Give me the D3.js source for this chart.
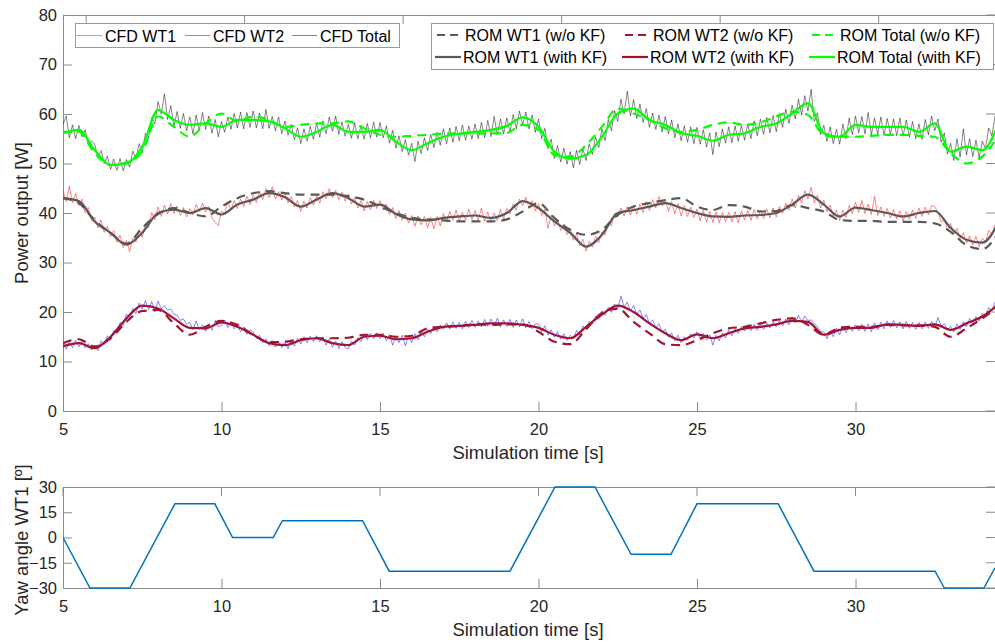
<!DOCTYPE html>
<html>
<head>
<meta charset="utf-8">
<script src="https://cdn.jsdelivr.net/npm/d3@7"></script>
<style>
  body { margin: 0; background: #fff; }
  svg { font-family: "Liberation Sans", Arial, sans-serif; }
  .axis text { fill: #262626; font-size: 16.5px; }
  .axis line, .axis path { stroke: #8a8a8a; }
</style>
</head>
<body>
<svg width="995" height="644"></svg>
<script>
// ROM signals sampled every 0.5 s from t = 5 s
const romStart = 5, romStep = 0.5;
const romWT1 = [43.0,42.0,38.5,36.0,33.8,37.0,39.8,41.0,40.0,39.3, 41.3,43.0,44.0,44.4,44.0,43.7,43.7,43.7,43.4,42.7,
  41.3,40.0,39.0,38.7,38.5,38.3,38.3,38.3,38.7,40.3, 42.0,39.0,36.6,35.6,36.6,39.6,41.3,42.0,42.6,43.0,
  41.3,40.6,41.6,41.3,40.3,40.4,41.6,41.0,40.3,38.6, 38.4,38.4,38.2,38.2,38.2,37.9,36.2,33.5,32.7,36.0];
const romWT2 = [13.7,14.5,13.0,14.7,18.0,20.2,20.4,17.7,15.4,17.0, 18.2,17.4,15.4,13.9,14.0,14.5,14.7,14.7,14.8,15.4,
  15.4,15.0,15.2,16.7,17.0,17.2,17.5,17.4,17.5,17.5, 16.0,14.0,13.5,16.5,19.8,20.7,18.0,15.7,13.5,13.3,
  14.3,15.7,16.7,17.0,17.7,18.4,18.7,17.4,15.4,16.8, 17.0,17.0,17.4,17.3,17.3,17.0,15.0,16.7,18.7,21.0];
const romTotal = [56.4,56.4,52.1,49.7,50.2,52.4,59.5,57.4,55.4,58.1, 60.1,58.5,59.5,58.8,57.4,57.8,58.1,58.1,58.5,57.1,
  55.8,55.4,55.6,55.8,56.0,56.1,56.1,56.1,56.2,57.8, 56.8,51.7,51.4,53.7,57.4,61.1,60.1,58.8,57.1,56.4,
  56.8,57.8,58.3,57.8,58.3,59.5,60.5,59.8,55.8,55.4, 55.4,55.6,55.8,55.8,55.6,55.4,52.1,50.0,51.4,55.5];
const romWT1KF = [43.0,42.4,38.3,36.0,33.6,36.0,40.0,40.7,40.0,41.0, 39.7,41.7,42.7,44.0,43.2,41.3,42.7,44.0,43.0,41.3,
  41.7,39.8,38.7,38.5,39.0,39.3,39.5,39.0,40.0,42.4, 41.0,38.3,36.0,33.2,35.6,40.0,40.6,41.3,42.0,41.0,
  40.0,39.3,39.2,39.5,39.6,40.0,41.7,43.7,41.7,39.3, 41.1,40.6,40.0,39.3,40.0,40.4,37.0,34.6,34.0,38.0];
const romWT2KF = [13.1,13.7,12.7,15.0,18.7,21.3,20.7,18.7,16.8,16.7, 17.9,17.0,15.4,13.7,13.3,14.3,14.7,13.7,13.3,15.0,
  15.2,14.5,14.7,16.0,17.0,17.2,17.4,17.7,17.7,17.4, 16.8,15.4,14.7,17.0,19.5,21.3,20.0,17.7,15.7,14.3,
  15.5,14.7,15.7,16.7,17.0,17.5,18.2,18.0,15.4,16.4, 16.8,16.8,17.5,17.4,17.2,17.5,16.4,17.7,19.1,21.5];
const romTotalKF = [56.1,56.8,52.7,49.7,50.0,53.4,60.8,58.8,57.8,58.1, 57.4,58.8,58.8,58.5,57.1,55.4,56.4,57.8,56.4,56.4,
  56.8,54.4,52.7,54.1,55.4,56.0,56.4,56.8,57.6,59.3, 57.4,52.4,51.0,51.7,55.4,60.1,61.1,58.8,57.8,56.1,
  55.6,54.6,55.8,56.1,57.4,58.1,60.1,62.2,56.1,55.4, 57.8,57.4,57.4,57.4,56.4,58.1,52.4,53.4,52.7,58.0];

// CFD signals sampled every 0.1 s from t = 5 s (one row per second)
const cfdStart = 5, cfdStep = 0.1;
const cfdWT1 = [
  44.6,42.3,45.4,42.1,43.9,41.5,42.8,40.0,41.1,38.4, 39.2,37.0,38.6,36.1,37.3,35.2,36.4,34.1,35.5,33.0,
  34.5,32.2,34.9,34.1,36.6,35.1,37.9,37.0,40.1,38.6, 41.2,39.3,41.6,39.8,41.9,39.9,41.4,39.5,41.1,39.2,
  40.9,39.6,41.7,40.3,42.0,40.2,41.3,39.0,38.1,37.4, 40.4,39.9,42.2,40.6,42.5,40.9,42.8,41.3,43.4,41.7,
  43.6,42.1,44.2,42.7,44.9,43.1,45.3,42.8,44.3,42.6, 44.0,42.0,43.3,41.2,42.5,40.3,42.4,41.0,43.1,41.6,
  43.5,42.0,44.3,42.9,44.9,43.1,44.6,42.7,44.2,42.4, 43.8,41.8,43.1,41.0,42.5,40.4,42.3,40.7,42.6,40.9,
  42.5,40.6,41.8,39.7,41.1,38.9,40.5,38.5,40.0,38.0, 39.5,37.3,39.4,37.6,39.3,37.0,39.1,36.8,39.3,37.4,
  39.9,38.2,40.3,38.5,40.6,38.4,40.1,38.6,40.8,38.7, 40.5,38.6,41.0,38.3,40.2,38.1,40.0,38.5,40.7,38.9,
  40.9,39.8,41.8,40.6,42.8,41.5,43.2,41.0,42.5,40.4, 41.9,39.5,40.8,36.9,39.6,37.4,38.7,36.5,37.8,35.6,
  36.9,34.5,35.8,33.4,34.7,32.3,34.3,33.1,35.3,34.0, 36.2,35.5,38.1,37.4,40.0,39.2,41.0,39.4,41.3,39.6,
  41.5,39.8,41.8,40.1,42.3,40.5,42.7,41.0,43.3,41.4, 42.8,40.3,42.3,39.8,41.9,39.4,41.5,39.3,41.2,39.1,
  40.8,38.4,40.5,38.2,40.3,38.1,40.2,38.0,40.1,38.3, 40.1,38.2,40.3,38.0,40.4,38.6,40.5,38.5,40.7,38.8,
  40.6,38.9,40.8,39.0,41.0,39.2,41.3,39.9,42.0,40.6, 42.8,41.0,43.6,42.0,44.5,42.8,45.2,42.0,43.6,41.0,
  42.6,40.3,41.6,39.4,40.6,38.5,40.6,39.1,41.5,39.8, 42.2,40.1,42.5,39.9,41.8,39.7,43.4,39.5,41.2,39.3,
  40.9,39.0,40.7,38.8,40.4,38.4,40.3,38.7,40.6,38.9, 41.0,39.3,41.2,39.6,41.5,41.3,40.1,38.2,38.7,36.6,
  37.9,35.7,36.9,34.8,36.0,33.9,35.4,33.5,35.3,33.2, 34.9,34.1,36.5,35.7,37.6];
const cfdWT2 = [
  13.8,12.5,13.9,12.8,14.3,13.0,14.1,12.7,13.6,12.3, 13.3,12.2,14.2,13.4,15.2,14.3,16.3,15.8,17.9,17.3,
  19.6,18.5,20.7,19.7,21.8,20.6,22.3,20.5,22.1,20.1, 22.2,20.6,21.3,20.4,20.6,19.5,19.4,18.3,18.6,17.5,
  17.9,16.4,18.2,16.5,17.4,16.1,17.6,16.3,18.3,17.0, 17.3,18.4,16.9,17.9,16.6,17.6,16.0,17.0,15.5,16.4,
  16.0,14.7,15.3,13.8,14.6,13.2,14.2,12.9,14.0,12.8, 13.9,12.6,14.2,13.1,14.7,13.5,15.0,13.8,15.1,14.0,
  15.2,14.0,14.9,13.3,14.5,12.9,14.1,12.6,14.0,12.8, 12.5,14.1,13.3,14.8,14.0,15.5,14.4,15.7,14.6,15.8,
  14.6,15.7,14.2,15.4,13.3,15.1,13.8,15.3,13.2,15.2, 13.8,15.6,14.4,16.1,15.0,16.5,15.6,17.1,16.0,17.4,
  16.5,17.8,16.6,18.0,16.7,17.9,16.6,18.1,16.9,18.3, 16.9,18.2,17.0,18.5,17.1,18.6,17.2,18.7,17.0,18.4,
  17.1,18.5,16.9,18.4,17.0,18.6,16.8,18.1,16.6,17.6, 17.6,16.0,17.2,15.3,16.4,14.9,16.0,14.5,15.6,14.3,
  15.3,14.6,16.3,15.4,17.2,16.5,18.1,17.6,19.2,18.5, 20.2,19.3,20.9,19.9,21.6,20.7,23.2,21.0,22.0,20.2,
  21.3,19.4,20.4,18.7,19.5,17.6,18.4,16.8,17.6,16.0, 16.5,14.9,15.8,14.2,15.3,13.8,15.0,14.3,15.6,14.7,
  16.0,14.6,15.7,14.3,15.4,13.3,15.3,14.2,15.8,14.8, 16.3,15.2,16.6,15.7,17.1,16.1,17.4,16.2,17.5,16.3,
  17.6,16.5,17.8,16.8,18.0,17.0,18.3,17.2,18.6,17.4, 19.0,17.8,19.3,18.0,19.2,18.3,18.4,17.6,17.1,16.0,
  16.0,14.6,16.2,15.0,16.8,15.4,17.1,15.8,17.2,16.1, 17.4,16.2,17.5,16.1,17.6,16.0,17.8,16.4,17.9,16.6,
  18.2,16.9,18.3,16.8,18.0,16.6,18.1,16.7,17.9,16.5, 17.9,16.6,18.0,16.7,18.1,16.9,18.9,17.2,17.6,16.4,
  17.1,16.0,17.6,16.5,18.0,17.0,18.7,17.6,19.1,18.2, 19.8,19.0,20.9,20.2,22.0];
const cfdTotal = [
  57.9,59.6,55.2,57.8,55.0,57.7,55.4,56.8,53.8,54.6, 53.9,51.2,52.6,50.0,51.5,48.8,50.9,48.6,51.0,48.5,
  50.8,49.3,52.5,50.9,54.0,52.3,56.1,55.2,59.3,58.0, 62.5,60.0,64.1,58.9,61.7,57.4,60.5,57.1,60.1,56.6,
  59.4,56.0,59.8,56.6,60.3,56.9,59.6,56.1,58.9,55.4, 58.5,56.3,59.4,56.9,60.1,57.2,60.4,57.0,60.3,57.3,
  60.6,57.2,60.2,57.0,60.9,57.1,59.5,56.6,59.4,56.0, 58.6,55.7,57.9,54.8,57.2,54.0,57.0,54.5,57.5,54.9,
  58.1,55.3,58.6,56.0,59.4,56.5,59.6,55.9,58.4,55.5, 57.9,55.1,58.2,55.0,57.6,54.9,58.1,55.2,58.4,55.3,
  58.3,55.2,57.6,54.1,56.7,53.1,55.6,52.4,54.8,51.7, 54.1,50.4,54.5,52.0,55.2,52.6,55.9,53.2,56.3,53.7,
  57.0,54.0,57.2,54.3,57.5,54.6,57.8,54.7,57.6,54.9, 58.0,55.0,58.3,55.2,58.7,55.4,59.5,55.8,59.0,56.0,
  59.2,56.3,59.9,57.0,60.6,57.8,60.4,57.0,59.8,56.3, 59.0,55.0,57.1,53.0,54.9,51.0,53.6,50.3,53.1,49.9,
  52.4,49.1,52.7,49.8,53.0,50.6,54.0,51.8,55.4,53.2, 57.0,54.6,58.9,56.6,60.7,58.5,63.0,60.0,64.6,59.6,
  62.9,59.1,62.0,58.3,61.1,57.3,60.2,56.9,59.8,56.4, 59.5,56.0,58.8,55.2,58.0,54.6,57.6,54.3,57.4,54.0,
  57.3,53.9,56.8,53.3,56.2,51.8,56.4,53.4,57.0,54.1, 57.4,54.2,57.6,54.5,57.7,54.7,58.0,55.0,58.6,55.6,
  59.0,55.9,59.3,56.2,59.7,56.4,60.1,57.3,61.0,58.1, 61.8,59.0,63.0,59.8,63.7,60.6,65.0,58.5,60.2,55.8,
  57.7,54.5,57.4,54.0,56.9,53.9,58.0,55.0,59.2,55.8, 59.6,56.2,59.5,56.0,60.3,55.8,59.2,55.9,59.4,55.7,
  59.1,55.8,59.0,55.6,59.2,55.5,58.8,55.3,58.5,55.0, 58.0,54.9,58.9,55.8,59.6,56.6,59.0,54.3,56.2,51.9,
  54.1,50.6,55.0,51.3,57.0,51.7,55.0,51.4,54.7,51.1, 54.5,53.0,57.2,55.6,59.6];

// yaw set-point of WT1
const yawTime  = [5, 5.85, 7.11, 8.53, 9.79, 10.35, 11.63, 11.92, 14.45, 15.29, 19.1, 20.52, 21.78, 22.92, 24.18, 25.0, 27.56, 28.69, 32.51, 32.8, 34.05, 34.4];
const yawAngle = [0, -30, -30, 20, 20, 0, 0, 10, 10, -20, -20, 30, 30, -10, -10, 20, 20, -20, -20, -30, -30, -18];

const xTicks = [5, 10, 15, 20, 25, 30];
const powerTicks = [0, 10, 20, 30, 40, 50, 60, 70, 80];
const yawTicks = [-30, -15, 0, 15, 30];

const svg = d3.select('svg');
const left = 63, right = 995;

const x = d3.scaleLinear().domain([5, 34.4]).range([left, right]);
const yP = d3.scaleLinear().domain([0, 80]).range([411, 15]);
const yY = d3.scaleLinear().domain([-30, 30]).range([588, 487]);

const series = (vals, start, step) => vals.map((v, i) => [start + i * step, v]);

svg.append('clipPath').attr('id', 'clipTop')
  .append('rect').attr('x', left).attr('y', 15).attr('width', right - left).attr('height', 396);
svg.append('clipPath').attr('id', 'clipBot')
  .append('rect').attr('x', left).attr('y', 486).attr('width', right - left).attr('height', 103);

function drawAxes(y, yTop, yBottom, yTickVals, topTicks) {
  const g = svg.append('g');
  g.append('g').attr('class', 'axis')
    .attr('transform', 'translate(0,' + yBottom + ')')
    .call(d3.axisBottom(x).tickValues(xTicks).tickSizeInner(-9).tickSizeOuter(0).tickPadding(12))
    .call(a => a.select('.domain').remove());
  g.append('g').attr('class', 'axis')
    .attr('transform', 'translate(' + left + ',0)')
    .call(d3.axisLeft(y).tickValues(yTickVals).tickSizeInner(-9).tickSizeOuter(0).tickPadding(6))
    .call(a => a.select('.domain').remove());
  // right side ticks
  g.append('g').selectAll('line').data(yTickVals).join('line')
    .attr('x1', right - 9).attr('x2', right).attr('y1', d => y(d)).attr('y2', d => y(d))
    .attr('stroke', '#8a8a8a');
  // top side ticks
  g.append('g').selectAll('line').data(topTicks).join('line')
    .attr('x1', d => x(d)).attr('x2', d => x(d)).attr('y1', yTop).attr('y2', yTop + 9)
    .attr('stroke', '#8a8a8a');
  g.append('rect').attr('x', left + 0.5).attr('y', yTop + 0.5)
    .attr('width', right - left).attr('height', yBottom - yTop)
    .attr('fill', 'none').attr('stroke', '#8a8a8a');
}

drawAxes(yP, 15, 411, powerTicks, [5.73, 10.73, 15.73, 20.73, 25.73, 30.73]);
drawAxes(yY, 487, 588, yawTicks, xTicks);

const lineP = d3.line().x(d => x(d[0])).y(d => yP(d[1]));
const plot = svg.append('g').attr('clip-path', 'url(#clipTop)');

const cfd = [
  {name: 'CFD WT1', data: cfdWT1, color: '#ff0000'},
  {name: 'CFD WT2', data: cfdWT2, color: '#0000ff'},
  {name: 'CFD Total', data: cfdTotal, color: '#000000'}
];
cfd.forEach(s => {
  plot.append('path')
    .attr('d', lineP(series(s.data, cfdStart, cfdStep)))
    .attr('fill', 'none').attr('stroke', s.color)
    .attr('stroke-width', 0.6).attr('stroke-opacity', 0.8);
});

const rom = [
  {name: 'ROM WT1 (w/o KF)', data: romWT1, color: '#595959', dash: '9,6'},
  {name: 'ROM WT2 (w/o KF)', data: romWT2, color: '#a2142f', dash: '9,6'},
  {name: 'ROM Total (w/o KF)', data: romTotal, color: '#00ff00', dash: '9,6'},
  {name: 'ROM WT1 (with KF)', data: romWT1KF, color: '#595959', dash: null},
  {name: 'ROM WT2 (with KF)', data: romWT2KF, color: '#a2142f', dash: null},
  {name: 'ROM Total (with KF)', data: romTotalKF, color: '#00ff00', dash: null}
];
const smooth = d3.line().curve(d3.curveMonotoneX).x(d => x(d[0])).y(d => yP(d[1]));
rom.forEach(s => {
  plot.append('path')
    .attr('d', smooth(series(s.data, romStart, romStep)))
    .attr('fill', 'none').attr('stroke', s.color)
    .attr('stroke-width', 2.2)
    .attr('stroke-dasharray', s.dash);
});

// yaw panel
const lineY = d3.line().x(d => x(d[0])).y(d => yY(d[1]));
svg.append('g').attr('clip-path', 'url(#clipBot)')
  .append('path')
  .attr('d', lineY(yawTime.map((t, i) => [t, yawAngle[i]])))
  .attr('fill', 'none').attr('stroke', '#0072bd').attr('stroke-width', 1.5);

// axis titles
svg.append('text').attr('x', 528).attr('y', 459).attr('text-anchor', 'middle')
  .style('font-size', '18.5px').style('fill', '#262626').text('Simulation time [s]');
svg.append('text').attr('x', 528).attr('y', 636).attr('text-anchor', 'middle')
  .style('font-size', '18.5px').style('fill', '#262626').text('Simulation time [s]');
svg.append('text').attr('transform', 'translate(28,213) rotate(-90)').attr('text-anchor', 'middle')
  .style('font-size', '18.5px').style('fill', '#262626').text('Power output [W]');
svg.append('text').attr('transform', 'translate(28,540) rotate(-90)').attr('text-anchor', 'middle')
  .style('font-size', '18.5px').style('fill', '#262626').text('Yaw angle WT1 [º]');

// legend 1 (CFD)
const leg1 = svg.append('g');
leg1.append('rect').attr('x', 75.5).attr('y', 23.5).attr('width', 324).attr('height', 24)
  .attr('fill', '#fff').attr('stroke', '#9a9a9a');
const leg1X = [77, 185, 292];
cfd.forEach((s, i) => {
  leg1.append('line').attr('x1', leg1X[i]).attr('x2', leg1X[i] + 25).attr('y1', 35.5).attr('y2', 35.5)
    .attr('stroke', s.color).attr('stroke-width', 0.6).attr('stroke-opacity', 0.8);
  leg1.append('text').attr('x', leg1X[i] + 28).attr('y', 41.5)
    .style('font-size', '16px').style('fill', '#000').text(s.name);
});

// legend 2 (ROM)
const leg2 = svg.append('g');
leg2.append('rect').attr('x', 431.5).attr('y', 23.5).attr('width', 562).attr('height', 46)
  .attr('fill', '#fff').attr('stroke', '#9a9a9a');
const leg2X = [[437, 625, 812], [435, 622, 809]];
const leg2Y = [35, 57];
rom.forEach((s, i) => {
  const r = Math.floor(i / 3), c = i % 3;
  const lx = leg2X[r][c], ly = leg2Y[r];
  leg2.append('line').attr('x1', lx).attr('x2', lx + 26).attr('y1', ly).attr('y2', ly)
    .attr('stroke', s.color).attr('stroke-width', 2.2).attr('stroke-dasharray', s.dash ? '8,5' : null);
  leg2.append('text').attr('x', lx + 28).attr('y', ly + 6)
    .style('font-size', '16px').style('fill', '#000').text(s.name);
});
</script>
</body>
</html>
